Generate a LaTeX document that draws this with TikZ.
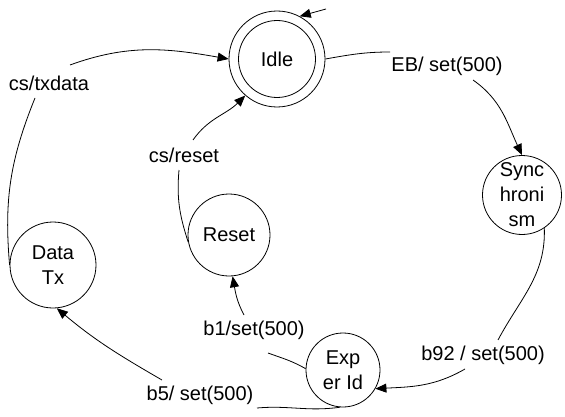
\documentclass[tikz,border=0pt]{standalone}
\usepackage{fontspec}
\setmainfont{Liberation Sans}
\usetikzlibrary{arrows.meta}
\newcommand\diagfont{\fontsize{20}{25}\selectfont}
\begin{document}
\begin{tikzpicture}[x=1pt,y=1pt,
  state/.style={circle,draw,line width=0.8pt,inner sep=0pt,align=center,font=\diagfont},
  lbl/.style={inner sep=1pt,font=\diagfont},
  conn/.style={line width=0.8pt},
  arr/.style={conn,-{Triangle[length=11pt,width=9pt]}}]
\useasboundingbox (0,0) rectangle (565,416);
% states (pixel coordinates, y measured from top)
\node[state,minimum size=96pt] (idle) at (277,416-59) {Idle};
\node[state,minimum size=77pt] (idlein) at (277,416-59) {};
\node[state,minimum size=79pt] (sync) at (522,416-195) {Sync\\hroni\\sm};
\node[state,minimum size=74pt] (exper) at (343,416-370) {Exp\\er Id};
\node[state,minimum size=82pt] (reset) at (229,416-235) {Reset};
\node[state,minimum size=86pt] (datatx) at (53,416-265) {Data\\Tx};
\coordinate (init) at (326,416-9);
% labels
\node[lbl] (eb) at (447,416-66) {EB/ set(500)};
\node[lbl] (b92) at (483,416-355) {b92 / set(500)};
\node[lbl] (b1) at (254,416-330) {b1/set(500)};
\node[lbl] (b5) at (200,416-395) {b5/ set(500)};
\node[lbl] (csr) at (184,416-155) {cs/reset};
\node[lbl] (cst) at (49,416-83) {cs/txdata};
% connectors
\draw[arr] (init) -- (idle.62);
\draw[conn] (idle.0) to[out=10,in=180] ([shift={(-57,14)}]eb.center);
\draw[arr] ([shift={(26,-14)}]eb.center) to[out=-35,in=115] (sync.north);
\draw[conn] (sync.-56) to[out=-88,in=62] ([shift={(15,15)}]b92.center);
\draw[arr] ([shift={(-18,-14)}]b92.center) to[out=-150,in=3] (exper.-30);
\draw[conn] (exper.178) to[out=150,in=-20] ([shift={(14,-23)}]b1.center);
\draw[arr] ([shift={(-10,15)}]b1.center) to[out=118,in=-80] (reset.-85);
\draw[conn] (reset.190) to[out=108,in=-95] ([shift={(-5,-15)}]csr.center);
\draw[arr] ([shift={(9,15)}]csr.center) to[out=55,in=-135] (idle.229);
\draw[conn] (exper.-95) to[out=188,in=5] ([shift={(57,-13)}]b5.center);
\draw[arr] ([shift={(-38,15)}]b5.center) to[out=150,in=-40] (datatx.-85);
\draw[conn] (datatx.180) to[out=95,in=-112] ([shift={(-14,-15)}]cst.center);
\draw[arr] ([shift={(21,18)}]cst.center) to[out=20,in=170] (idle.180);
\end{tikzpicture}
\end{document}
